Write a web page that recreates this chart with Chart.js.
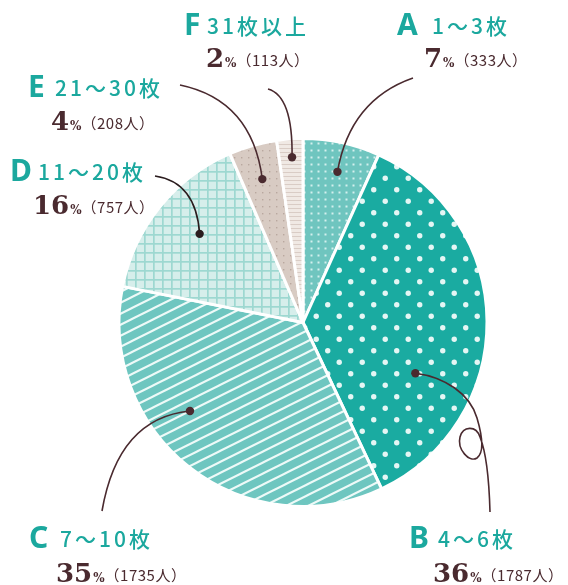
<!DOCTYPE html>
<html>
<head>
<meta charset="utf-8">
<script src="https://cdn.jsdelivr.net/npm/chart.js@4"></script>
<style>
  html, body { margin: 0; background: #fff; }
  #wrap { width: 568px; height: 585px; }
</style>
</head>
<body>
<div id="wrap"><canvas id="myChart"></canvas></div>
<script>
const letters = ['A', 'B', 'C', 'D', 'E', 'F'];
const ranges = ['1～3枚', '4～6枚', '7～10枚', '11～20枚', '21～30枚', '31枚以上'];
const percents = [7, 36, 35, 16, 4, 2];
const people = [333, 1787, 1735, 757, 208, 113];

const TEAL = '#1ba89e';
const BROWN = '#4a2a2f';

function makePattern(w, h, bg, draw) {
  const c = document.createElement('canvas');
  c.width = w; c.height = h;
  const x = c.getContext('2d');
  x.fillStyle = bg;
  x.fillRect(0, 0, w, h);
  draw(x, w, h);
  return x.createPattern(c, 'repeat');
}

// A: small dots
const patA = makePattern(7, 7, '#6fc5bf', (x) => {
  x.fillStyle = '#d4f0ed';
  x.fillRect(2.5, 2.5, 2, 2);
});
// B: big staggered dots
const patB = makePattern(23, 23, '#1aaba1', (x) => {
  x.fillStyle = '#e4f6f4';
  [[5.75, 5.75], [17.25, 17.25]].forEach(([cx, cy]) => {
    x.beginPath(); x.arc(cx, cy, 2.7, 0, Math.PI * 2); x.fill();
  });
});
// C: diagonal stripes
const patC = makePattern(22, 11, '#6ec6c0', (x, w, h) => {
  x.strokeStyle = '#eefaf8';
  x.lineWidth = 2.1;
  [-1, 0, 1].forEach(k => {
    x.beginPath();
    x.moveTo(-w, 2 * h + k * h);
    x.lineTo(2 * w, -h + k * h);
    x.stroke();
  });
});
// D: grid
const patD = makePattern(9.5, 9.5, '#d6eeeb', (x, w, h) => {
  x.fillStyle = '#9dd8d1';
  x.fillRect(0, 0, w, 1.7);
  x.fillRect(0, 0, 1.7, h);
});
// E: tiny dots
const patE = makePattern(7, 7, '#d8cbc3', (x) => {
  x.fillStyle = '#b9a79f';
  x.fillRect(3, 3, 1.4, 1.4);
});
// F: horizontal lines
const patF = makePattern(4, 4.2, '#f0e9e4', (x, w) => {
  x.fillStyle = '#d9ccc5';
  x.fillRect(0, 0, w, 1);
});

// where each leader dot sits inside its slice: [fraction of the slice angle, fraction of the radius]
const anchors = [[0.53, 0.84], [0.69, 0.67], [0.61, 0.78], [0.53, 0.74], [0.5, 0.81], [0.54, 0.9]];

// label placement
const labelPos = [
  { lx: 397, rx: 432, y: 35, sx: 424, sy: 67 },
  { lx: 409, rx: 438, y: 548, sx: 433, sy: 582 },
  { lx: 29, rx: 60, y: 548, sx: 56, sy: 582 },
  { lx: 10, rx: 38, y: 181, sx: 33, sy: 214 },
  { lx: 28, rx: 55, y: 97, sx: 51, sy: 130 },
  { lx: 184, rx: 207, y: 35, sx: 206, sy: 67 }
];

// leader curves between the label and the dot p
function leaderPath(ctx, i, p) {
  ctx.beginPath();
  switch (i) {
    case 0: ctx.moveTo(413, 78); ctx.quadraticCurveTo(350, 100, p.x, p.y); break;
    case 1:
      ctx.moveTo(p.x, p.y);
      ctx.bezierCurveTo(445, 377, 470, 394, 477, 418);
      ctx.bezierCurveTo(482, 435, 485, 452, 477, 458);
      ctx.bezierCurveTo(469, 463, 457, 449, 460, 437);
      ctx.bezierCurveTo(463, 426, 476, 425, 480, 437);
      ctx.bezierCurveTo(486, 452, 489, 475, 490, 512);
      break;
    case 2: ctx.moveTo(102, 511); ctx.quadraticCurveTo(118, 418, p.x, p.y); break;
    case 3: ctx.moveTo(155, 176); ctx.quadraticCurveTo(196, 182, p.x, p.y); break;
    case 4: ctx.moveTo(180, 85); ctx.quadraticCurveTo(252, 100, p.x, p.y); break;
    case 5: ctx.moveTo(268, 89); ctx.quadraticCurveTo(293, 96, p.x, p.y); break;
  }
}

const labelsPlugin = {
  id: 'sliceLabels',
  afterDraw(chart) {
    const ctx = chart.ctx;
    const arcs = chart.getDatasetMeta(0).data;
    arcs.forEach((arc, i) => {
      const [t, rf] = anchors[i];
      const ang = arc.startAngle + t * (arc.endAngle - arc.startAngle);
      const r = arc.outerRadius * rf;
      const p = { x: arc.x + r * Math.cos(ang), y: arc.y + r * Math.sin(ang) };

      ctx.save();
      ctx.strokeStyle = i === 3 ? '#2a1c1e' : BROWN;
      ctx.lineWidth = 1.6;
      leaderPath(ctx, i, p);
      ctx.stroke();
      ctx.fillStyle = i === 3 ? '#2a1c1e' : BROWN;
      ctx.beginPath(); ctx.arc(p.x, p.y, 4.2, 0, Math.PI * 2); ctx.fill();

      const L = labelPos[i];
      ctx.textBaseline = 'alphabetic';
      ctx.textAlign = 'left';
      ctx.fillStyle = TEAL;
      ctx.font = 'bold 30px "Noto Sans"';
      ctx.fillText(letters[i], L.lx, L.y);
      ctx.font = '500 21px "Noto Sans CJK JP"';
      ctx.letterSpacing = '3px';
      ctx.fillText(ranges[i], L.rx, L.y - 1);

      ctx.fillStyle = BROWN;
      ctx.letterSpacing = '0px';
      ctx.font = 'bold 26px "DejaVu Serif"';
      const num = String(percents[i]);
      ctx.fillText(num, L.sx, L.sy);
      let x = L.sx + ctx.measureText(num).width + 1;
      ctx.font = 'bold 12px "DejaVu Serif"';
      ctx.fillText('%', x, L.sy);
      x += ctx.measureText('%').width;
      ctx.font = '15px "Noto Sans CJK JP"';
      ctx.letterSpacing = '0.5px';
      ctx.fillText('（' + people[i] + '人）', x, L.sy - 1);
      ctx.restore();
    });
  }
};

const CHART = document.getElementById('myChart');
new Chart(CHART, {
  type: 'pie',
  data: {
    labels: letters.map((l, i) => l + ' ' + ranges[i]),
    datasets: [{
      data: people,
      backgroundColor: [patA, patB, patC, patD, patE, patF],
      borderColor: '#ffffff',
      borderWidth: 3,
      hoverOffset: 0
    }]
  },
  options: {
    responsive: true,
    maintainAspectRatio: false,
    animation: false,
    layout: { padding: { left: 117, right: 79, top: 137, bottom: 77 } },
    plugins: {
      legend: { display: false },
      tooltip: { enabled: false }
    }
  },
  plugins: [labelsPlugin]
});
</script>
</body>
</html>
